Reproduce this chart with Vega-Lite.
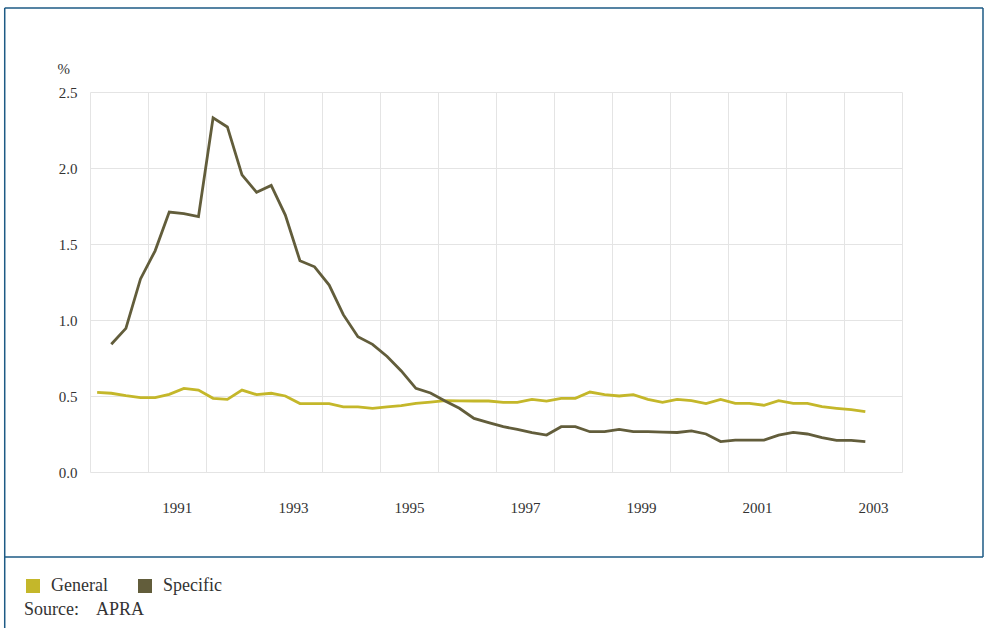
{
  "$schema": "https://vega.github.io/schema/vega-lite/v6.json",
  "width": 812,
  "height": 380,
  "autosize": "none",
  "padding": {"left": 90, "top": 92, "right": 83, "bottom": 156},
  "background": "white",
  "config": {"view": {"stroke": null}, "font": "Liberation Serif"},
  "layer": [
    {
      "data": {"values": [
        {"date": "1990-02-15", "General": 0.524, "Specific": null},
        {"date": "1990-05-15", "General": 0.518, "Specific": 0.84},
        {"date": "1990-08-15", "General": 0.502, "Specific": 0.945},
        {"date": "1990-11-15", "General": 0.489, "Specific": 1.27},
        {"date": "1991-02-15", "General": 0.489, "Specific": 1.455},
        {"date": "1991-05-15", "General": 0.511, "Specific": 1.71},
        {"date": "1991-08-15", "General": 0.55, "Specific": 1.70},
        {"date": "1991-11-15", "General": 0.539, "Specific": 1.68},
        {"date": "1992-02-15", "General": 0.485, "Specific": 2.33},
        {"date": "1992-05-15", "General": 0.478, "Specific": 2.27},
        {"date": "1992-08-15", "General": 0.539, "Specific": 1.955},
        {"date": "1992-11-15", "General": 0.509, "Specific": 1.84},
        {"date": "1993-02-15", "General": 0.518, "Specific": 1.885},
        {"date": "1993-05-15", "General": 0.50, "Specific": 1.69},
        {"date": "1993-08-15", "General": 0.45, "Specific": 1.39},
        {"date": "1993-11-15", "General": 0.45, "Specific": 1.35},
        {"date": "1994-02-15", "General": 0.45, "Specific": 1.23},
        {"date": "1994-05-15", "General": 0.428, "Specific": 1.035},
        {"date": "1994-08-15", "General": 0.428, "Specific": 0.89},
        {"date": "1994-11-15", "General": 0.419, "Specific": 0.84},
        {"date": "1995-02-15", "General": 0.428, "Specific": 0.76},
        {"date": "1995-05-15", "General": 0.436, "Specific": 0.665},
        {"date": "1995-08-15", "General": 0.452, "Specific": 0.55},
        {"date": "1995-11-15", "General": 0.46, "Specific": 0.52},
        {"date": "1996-02-15", "General": 0.469, "Specific": 0.467},
        {"date": "1996-05-15", "General": 0.468, "Specific": 0.419},
        {"date": "1996-08-15", "General": 0.467, "Specific": 0.353},
        {"date": "1996-11-15", "General": 0.467, "Specific": 0.325},
        {"date": "1997-02-15", "General": 0.458, "Specific": 0.298},
        {"date": "1997-05-15", "General": 0.458, "Specific": 0.28},
        {"date": "1997-08-15", "General": 0.478, "Specific": 0.259},
        {"date": "1997-11-15", "General": 0.467, "Specific": 0.243},
        {"date": "1998-02-15", "General": 0.485, "Specific": 0.298},
        {"date": "1998-05-15", "General": 0.485, "Specific": 0.298},
        {"date": "1998-08-15", "General": 0.526, "Specific": 0.265},
        {"date": "1998-11-15", "General": 0.509, "Specific": 0.265},
        {"date": "1999-02-15", "General": 0.50, "Specific": 0.28},
        {"date": "1999-05-15", "General": 0.509, "Specific": 0.265},
        {"date": "1999-08-15", "General": 0.478, "Specific": 0.265},
        {"date": "1999-11-15", "General": 0.458, "Specific": 0.262},
        {"date": "2000-02-15", "General": 0.478, "Specific": 0.26},
        {"date": "2000-05-15", "General": 0.469, "Specific": 0.27},
        {"date": "2000-08-15", "General": 0.45, "Specific": 0.25},
        {"date": "2000-11-15", "General": 0.478, "Specific": 0.20},
        {"date": "2001-02-15", "General": 0.452, "Specific": 0.21},
        {"date": "2001-05-15", "General": 0.452, "Specific": 0.21},
        {"date": "2001-08-15", "General": 0.439, "Specific": 0.21},
        {"date": "2001-11-15", "General": 0.469, "Specific": 0.243},
        {"date": "2002-02-15", "General": 0.452, "Specific": 0.26},
        {"date": "2002-05-15", "General": 0.452, "Specific": 0.25},
        {"date": "2002-08-15", "General": 0.43, "Specific": 0.226},
        {"date": "2002-11-15", "General": 0.419, "Specific": 0.208},
        {"date": "2003-02-15", "General": 0.41, "Specific": 0.208},
        {"date": "2003-05-15", "General": 0.397, "Specific": 0.20}
      ]},
      "transform": [
        {"fold": ["Specific", "General"], "as": ["series", "value"]},
        {"filter": "datum.value != null"}
      ],
      "mark": {"type": "line", "strokeWidth": 2.8},
      "encoding": {
        "x": {
          "field": "date",
          "type": "temporal",
          "scale": {"type": "utc", "domain": [{"year": 1990, "utc": true}, {"year": 2004, "utc": true}]},
          "axis": {
            "title": null,
            "tickCount": 60,
            "values": [
              {"year": 1990, "utc": true}, {"year": 1991, "utc": true}, {"year": 1992, "utc": true},
              {"year": 1993, "utc": true}, {"year": 1994, "utc": true}, {"year": 1995, "utc": true},
              {"year": 1996, "utc": true}, {"year": 1997, "utc": true}, {"year": 1998, "utc": true},
              {"year": 1999, "utc": true}, {"year": 2000, "utc": true}, {"year": 2001, "utc": true},
              {"year": 2002, "utc": true}, {"year": 2003, "utc": true}, {"year": 2004, "utc": true},
              {"year": 1991, "month": 7, "date": 2, "utc": true},
              {"year": 1993, "month": 7, "date": 2, "utc": true},
              {"year": 1995, "month": 7, "date": 2, "utc": true},
              {"year": 1997, "month": 7, "date": 2, "utc": true},
              {"year": 1999, "month": 7, "date": 2, "utc": true},
              {"year": 2001, "month": 7, "date": 2, "utc": true},
              {"year": 2003, "month": 7, "date": 2, "utc": true}
            ],
            "labelExpr": "utcmonth(datum.value) == 6 ? utcFormat(datum.value, '%Y') : ''",
            "grid": true,
            "gridColor": "#e4e4e4",
            "gridWidth": 1,
            "gridOpacity": {"condition": {"test": "utcmonth(datum.value) == 0", "value": 1}, "value": 0},
            "ticks": false,
            "domain": false,
            "labelPadding": 28,
            "labelFontSize": 15,
            "labelColor": "#333333",
            "labelFont": "Liberation Serif",
            "labelOverlap": false,
            "labelFlush": false,
            "labelBound": false
          }
        },
        "y": {
          "field": "value",
          "type": "quantitative",
          "scale": {"domain": [0, 2.5], "nice": false, "zero": false},
          "axis": {
            "values": [0, 0.5, 1, 1.5, 2, 2.5],
            "tickCount": 20,
            "format": ".1f",
            "grid": true,
            "gridColor": "#e4e4e4",
            "gridWidth": 1,
            "ticks": false,
            "domain": false,
            "labelPadding": 13,
            "labelFontSize": 15,
            "labelColor": "#333333",
            "labelFont": "Liberation Serif",
            "title": "%",
            "titleAngle": 0,
            "titleAlign": "left",
            "titleBaseline": "alphabetic",
            "titleX": -33,
            "titleY": -19,
            "titleFontSize": 15,
            "titleFontWeight": "normal",
            "titleColor": "#333333",
            "titleFont": "Liberation Serif"
          }
        },
        "color": {
          "field": "series",
          "type": "nominal",
          "scale": {"domain": ["General", "Specific"], "range": ["#c4b72a", "#625d3b"]},
          "legend": {
            "orient": "none",
            "legendX": -66,
            "legendY": 485,
            "direction": "horizontal",
            "symbolType": "square",
            "symbolSize": 196,
            "symbolStrokeWidth": 0,
            "labelFontSize": 18,
            "labelFont": "Liberation Serif",
            "labelColor": "#333333",
            "labelOffset": 9,
            "columnPadding": 28,
            "title": "Source:\u00a0\u00a0\u00a0 APRA",
            "titleOrient": "bottom",
            "titleAnchor": "start",
            "titleFontSize": 18,
            "titleFontWeight": "normal",
            "titleFont": "Liberation Serif",
            "titleColor": "#333333",
            "titlePadding": 6,
            "encode": {"symbols": {"update": {"fill": {"scale": "color", "field": "value"}, "stroke": {"value": "transparent"}}}}
          }
        }
      }
    },
    {
      "data": {"values": [{}]},
      "mark": {"type": "rule", "color": "#1d5a85", "strokeWidth": 1.5},
      "encoding": {
        "x": {"datum": {"year": 1988, "month": 7, "date": 13, "utc": true}, "type": "temporal"},
        "x2": {"datum": {"year": 2005, "month": 5, "date": 25, "utc": true}},
        "y": {"datum": 3.0526, "type": "quantitative"}
      }
    },
    {
      "data": {"values": [{}]},
      "mark": {"type": "rule", "color": "#1d5a85", "strokeWidth": 1.5},
      "encoding": {
        "x": {"datum": {"year": 1988, "month": 7, "date": 13, "utc": true}, "type": "temporal"},
        "x2": {"datum": {"year": 2005, "month": 5, "date": 25, "utc": true}},
        "y": {"datum": -0.559, "type": "quantitative"}
      }
    },
    {
      "data": {"values": [{}]},
      "mark": {"type": "rule", "color": "#1d5a85", "strokeWidth": 1.5},
      "encoding": {
        "x": {"datum": {"year": 1988, "month": 7, "date": 13, "utc": true}, "type": "temporal"},
        "y": {"datum": 3.0526, "type": "quantitative"},
        "y2": {"datum": -1.04}
      }
    },
    {
      "data": {"values": [{}]},
      "mark": {"type": "rule", "color": "#1d5a85", "strokeWidth": 1.5},
      "encoding": {
        "x": {"datum": {"year": 2005, "month": 5, "date": 25, "utc": true}, "type": "temporal"},
        "y": {"datum": 3.0526, "type": "quantitative"},
        "y2": {"datum": -0.559}
      }
    }
  ]
}
